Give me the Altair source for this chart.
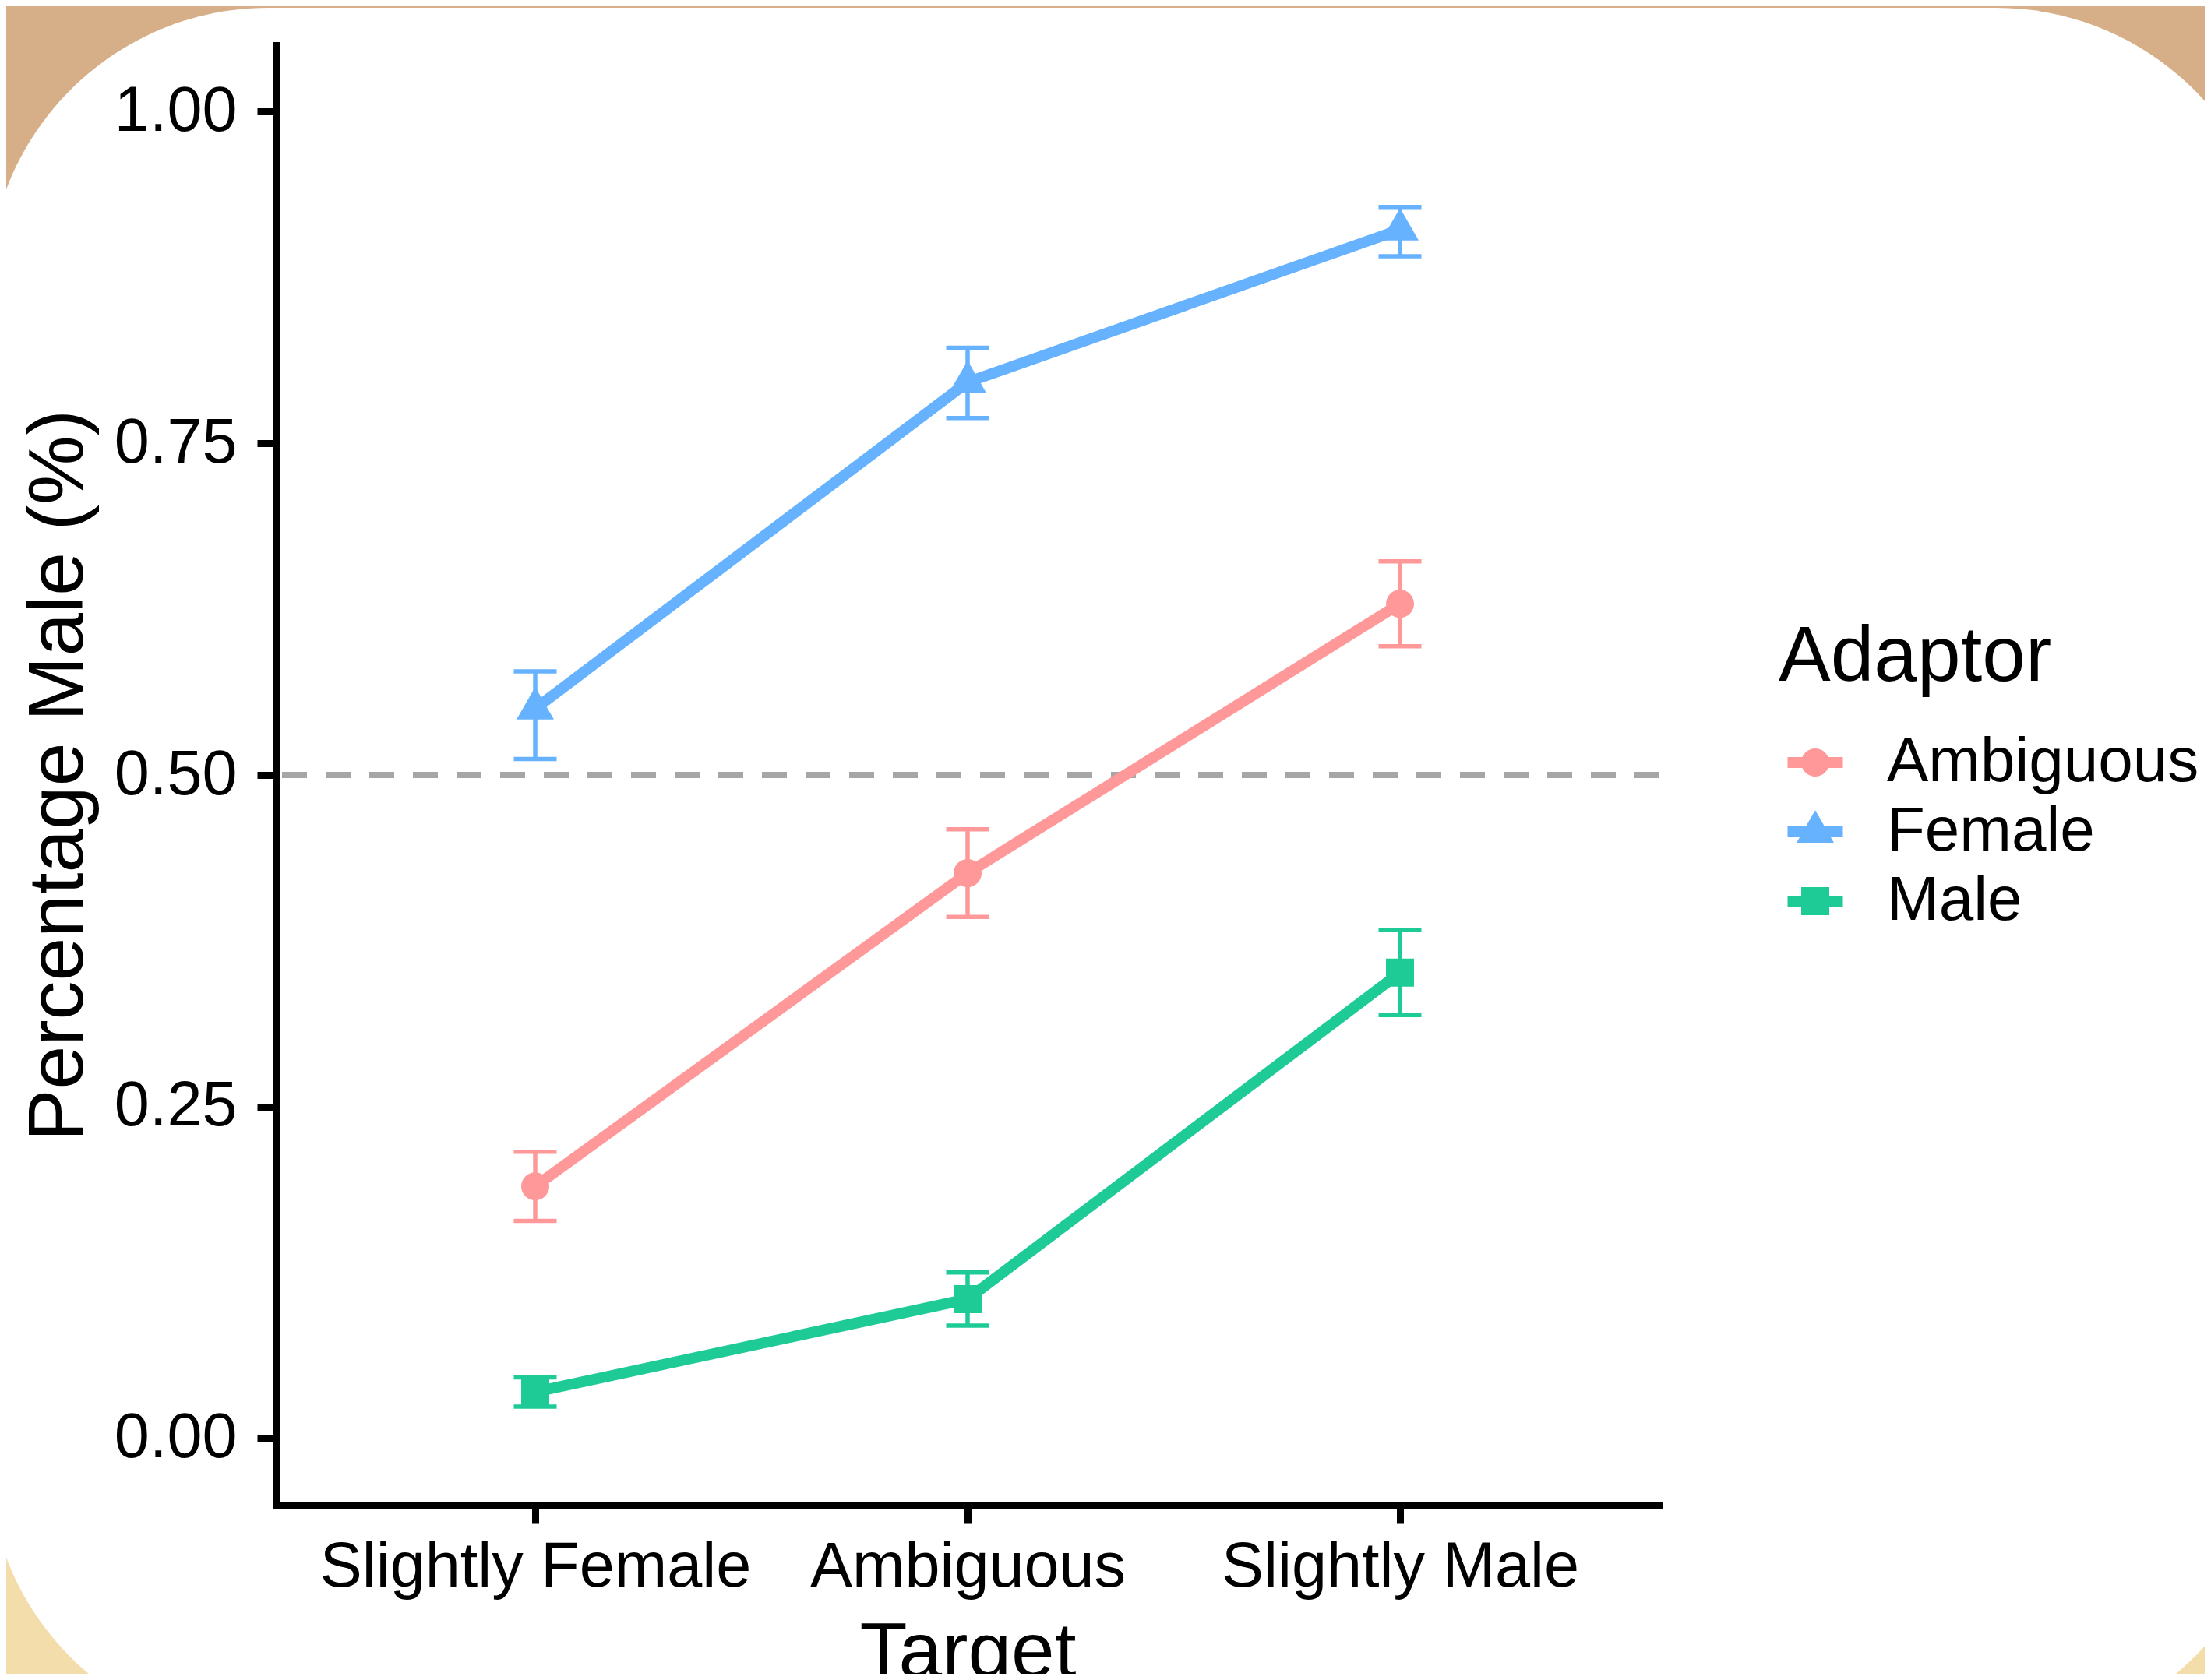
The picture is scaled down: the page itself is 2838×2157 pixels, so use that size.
import altair as alt
import pandas as pd

FONT = "Liberation Sans"

targets = ["Slightly Female", "Ambiguous", "Slightly Male"]
adaptors = ["Ambiguous", "Female", "Male"]
colors = ["#FF9999", "#66B2FF", "#1ECB97"]

mean_ambiguous = [0.190, 0.426, 0.629]
low_ambiguous = [0.164, 0.393, 0.597]
high_ambiguous = [0.216, 0.459, 0.661]

mean_female = [0.550, 0.796, 0.911]
low_female = [0.512, 0.769, 0.891]
high_female = [0.578, 0.822, 0.928]

mean_male = [0.035, 0.105, 0.351]
low_male = [0.024, 0.085, 0.319]
high_male = [0.046, 0.125, 0.383]

y_ticks = [0.0, 0.25, 0.5, 0.75, 1.0]
reference_line = [0.5]

# marker shapes (custom paths in the unit box)
plot_shapes = [
    "M-0.75,0A0.75,0.75,0,0,1,0.75,0A0.75,0.75,0,0,1,-0.75,0Z",
    "M0,-1.155L1,0.577L-1,0.577Z",
    "M-0.75,-0.75H0.75V0.75H-0.75Z",
]
bar = "M-1,-0.197H1V0.197H-1Z"
legend_shapes = [
    bar + "M-0.507,0A0.507,0.507,0,0,1,0.507,0A0.507,0.507,0,0,1,-0.507,0Z",
    bar + "M0,-0.781L0.676,0.391L-0.676,0.391Z",
    bar + "M-0.507,-0.507H0.507V0.507H-0.507Z",
]

series = {
    "Ambiguous": (mean_ambiguous, low_ambiguous, high_ambiguous),
    "Female": (mean_female, low_female, high_female),
    "Male": (mean_male, low_male, high_male),
}
rows = []
for a in adaptors:
    m, lo, hi = series[a]
    for i, t in enumerate(targets):
        rows.append({"Adaptor": a, "Target": t, "idx": i,
                     "mean": m[i], "low": lo[i], "high": hi[i]})
df = pd.DataFrame(rows)
ref_df = pd.DataFrame({"value": reference_line})
panel_df = pd.DataFrame({"panel": [1]})

x_scale = alt.Scale(type="point", padding=0.6, domain=targets)
y_scale = alt.Scale(domain=[-0.05, 1.05], nice=False, zero=False)
color_scale = alt.Scale(domain=adaptors, range=colors)

x_axis = alt.Axis(
    title="Target", grid=False, labelAngle=0, zindex=1,
    domainColor="black", domainWidth=9, domainCap="square",
    tickColor="black", tickWidth=9, tickSize=24,
    labelFont=FONT, labelFontSize=81, labelColor="black", labelPadding=16,
    labelLimit=2000,
    titleFont=FONT, titleFontSize=100, titleFontWeight="normal",
    titleColor="black", titlePadding=21,
)
y_axis = alt.Axis(
    title="Percentage Male (%)", grid=False, zindex=1, values=y_ticks,
    format=".2f",
    domainColor="black", domainWidth=9, domainCap="square",
    tickColor="black", tickWidth=9, tickSize=24,
    labelFont=FONT, labelFontSize=81, labelColor="black", labelPadding=26,
    labelLimit=2000,
    titleFont=FONT, titleFontSize=100, titleFontWeight="normal",
    titleColor="black", titlePadding=28,
)


def X():
    return alt.X("Target:N", scale=x_scale, sort=targets, axis=x_axis)


def C():
    return alt.Color("Adaptor:N", scale=color_scale, legend=None)


yellow = alt.Chart(panel_df).mark_rect(color="#F3DDAB").encode(
    x=alt.value(-400), x2=alt.value(2700),
    y=alt.value(1020), y2=alt.value(2300),
)
card = alt.Chart(panel_df).mark_rect(color="white", cornerRadius=360).encode(
    x=alt.value(-369), x2=alt.value(2568),
    y=alt.value(-48), y2=alt.value(2175),
)

hline = alt.Chart(ref_df).mark_rule(
    color="#A6A6A6", strokeWidth=8, strokeDash=[32, 24]
).encode(y=alt.Y("value:Q", scale=y_scale, axis=y_axis))

err = alt.Chart(df).mark_rule(strokeWidth=5.5).encode(
    x=X(), y=alt.Y("low:Q", scale=y_scale, axis=y_axis), y2="high:Q", color=C()
)
cap_low = alt.Chart(df).mark_tick(size=55, thickness=5.5, opacity=1).encode(
    x=X(), y=alt.Y("low:Q", scale=y_scale, axis=y_axis), color=C()
)
cap_high = alt.Chart(df).mark_tick(size=55, thickness=5.5, opacity=1).encode(
    x=X(), y=alt.Y("high:Q", scale=y_scale, axis=y_axis), color=C()
)
lines = alt.Chart(df).mark_line(strokeWidth=14).encode(
    x=X(), y=alt.Y("mean:Q", scale=y_scale, axis=y_axis), color=C(),
    order=alt.Order("idx:Q"),
)
points = alt.Chart(df).mark_point(filled=True, size=2304, opacity=1, strokeWidth=0).encode(
    x=X(), y=alt.Y("mean:Q", scale=y_scale, axis=y_axis), color=C(),
    shape=alt.Shape("Adaptor:N", scale=alt.Scale(domain=adaptors, range=plot_shapes), legend=None),
)

legend = alt.Legend(
    title="Adaptor", orient="none", legendX=1929, legendY=737,
    direction="vertical", padding=0, symbolOffset=7, labelOffset=52,
    rowPadding=9, titlePadding=44,
    labelFont=FONT, labelFontSize=80, labelColor="black", labelLimit=2000,
    titleFont=FONT, titleFontSize=100, titleFontWeight="normal",
    titleColor="black", titleLimit=2000,
    symbolSize=5041, symbolStrokeWidth=0,
)
legend_layer = alt.Chart(df).mark_point(
    filled=True, size=5041, opacity=1, strokeWidth=0, clip=True
).encode(
    x=X(), y=alt.value(-5000),
    color=alt.Color("Adaptor:N", scale=color_scale, legend=legend),
    shape=alt.Shape("Adaptor:N", scale=alt.Scale(domain=adaptors, range=legend_shapes), legend=legend),
)

chart = alt.layer(
    yellow, card, hline, err, cap_low, cap_high, lines, points, legend_layer
).resolve_scale(
    color="independent", shape="independent"
).properties(
    width=1776, height=1874, background="#D6AE88",
    padding={"left": 346, "top": 50, "right": 700, "bottom": 217},
    autosize=alt.AutoSizeParams(type="none"),
).configure_view(strokeWidth=0).configure(font=FONT)

chart.save("out.html", embed_options={"renderer": "svg", "actions": False})
